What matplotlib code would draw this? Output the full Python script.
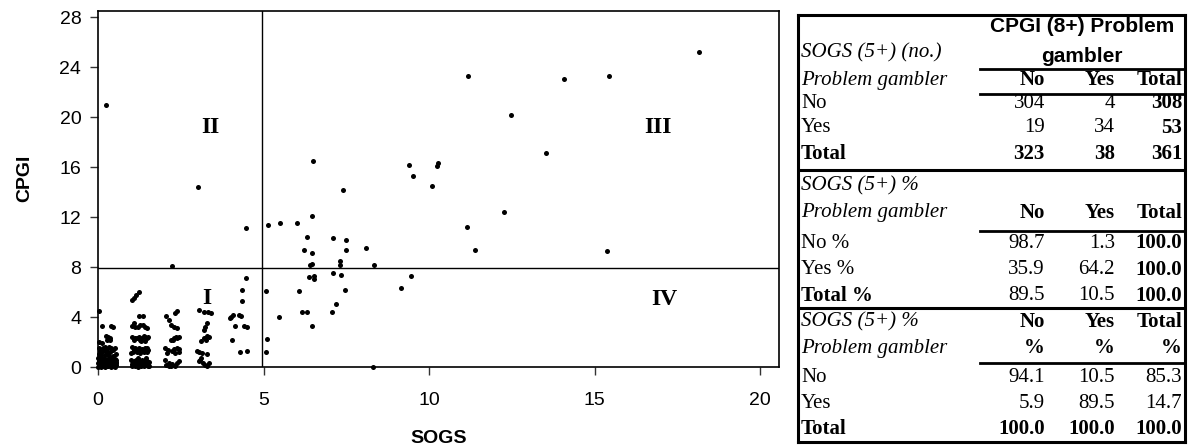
import matplotlib
matplotlib.use("Agg")
import matplotlib.pyplot as plt

# ---------------- data ----------------
# scatter points (SOGS, CPGI), grouped by SOGS column
col0_pts = [(0.02, 4.5), (0.12, 3.3), (0.38, 3.3), (0.30, 2.43), (0.36, 2.36), (0.37, 2.2),
            (0.28, 2.16), (0.02, 2.0), (0.02, 1.5), (0.14, 1.5), (0.27, 1.48), (0.40, 1.52),
            (0.50, 1.5), (0.05, 1.28), (0.15, 1.25), (0.25, 1.3), (0.35, 1.22), (0.02, 1.05),
            (0.10, 1.0), (0.20, 0.98), (0.0, 0.72), (0.1, 0.7), (0.19, 0.74), (0.31, 0.68),
            (0.42, 0.7), (0.5, 0.66), (0.02, 0.5), (0.08, 0.48), (0.14, 0.52), (0.22, 0.5),
            (0.3, 0.47), (0.38, 0.52), (0.46, 0.5), (0.52, 0.46), (0.0, 0.3), (0.06, 0.32),
            (0.12, 0.28), (0.18, 0.3), (0.24, 0.33), (0.3, 0.27), (0.36, 0.3), (0.42, 0.31),
            (0.48, 0.28), (0.54, 0.3), (0.03, 0.15), (0.09, 0.14), (0.15, 0.17), (0.21, 0.12),
            (0.27, 0.15), (0.33, 0.16), (0.39, 0.13), (0.45, 0.15), (0.51, 0.14), (0.0, 0.02),
            (0.1, 0.04), (0.2, 0.02), (0.3, 0.05), (0.4, 0.03), (0.5, 0.02), (0.55, 0.2),
            (0.06, 0.9), (0.33, 0.9), (0.45, 0.86), (0.12, 1.9), (0.24, 2.5), (0.45, 3.2),
            (0.04, 0.62), (0.16, 0.6), (0.26, 0.58), (0.36, 0.62), (0.47, 0.58), (0.54, 0.55),
            (0.07, 0.4), (0.17, 0.42), (0.27, 0.38), (0.41, 0.4), (0.53, 0.38), (0.05, 0.22),
            (0.19, 0.24), (0.33, 0.22), (0.47, 0.2), (0.14, 0.07), (0.26, 0.09), (0.44, 0.08),
            (0.08, 1.15), (0.3, 1.1), (0.44, 1.4), (0.2, 1.6), (0.34, 1.6), (0.54, 1.05)]
col1_pts = [(1.03, 5.36), (1.08, 5.49), (1.15, 5.76), (1.24, 5.98), (1.23, 4.1), (1.37, 4.1),
            (1.08, 3.5), (1.13, 3.23), (1.28, 3.36), (1.35, 3.4), (1.43, 3.23), (1.48, 3.15),
            (1.03, 3.3), (1.03, 2.43), (1.13, 2.36), (1.23, 2.43), (1.33, 2.36), (1.43, 2.43),
            (1.48, 2.29), (1.08, 2.16), (1.28, 2.16), (1.43, 2.1), (1.38, 2.5), (1.03, 1.6),
            (1.13, 1.49), (1.23, 1.55), (1.33, 1.45), (1.43, 1.49), (1.51, 1.36), (1.05, 1.23),
            (1.18, 1.23), (1.38, 1.23), (1.0, 1.1), (1.28, 1.15), (1.48, 1.2), (1.0, 0.6),
            (1.08, 0.45), (1.16, 0.55), (1.24, 0.5), (1.32, 0.6), (1.4, 0.45), (1.48, 0.52),
            (1.54, 0.4), (1.02, 0.25), (1.1, 0.2), (1.18, 0.3), (1.26, 0.22), (1.34, 0.28),
            (1.42, 0.2), (1.5, 0.26), (1.04, 0.05), (1.12, 0.08), (1.2, 0.04), (1.3, 0.06),
            (1.4, 0.05), (1.5, 0.08), (1.55, 0.1), (1.2, 0.7), (1.45, 0.7), (1.18, 2.3),
            (1.52, 2.4), (1.1, 1.35), (1.22, 1.38), (1.35, 1.33), (1.48, 1.5), (1.06, 0.35),
            (1.22, 0.38), (1.36, 0.36), (1.52, 0.32), (1.14, 0.15), (1.28, 0.14), (1.46, 0.14),
            (1.2, 3.2), (1.3, 2.05)]
col2_pts = [(2.05, 4.1), (2.34, 4.3), (2.39, 4.45), (2.15, 3.76), (2.2, 3.4), (2.3, 3.23),
            (2.4, 3.15), (2.3, 2.35), (2.37, 2.43), (2.45, 2.43), (2.21, 2.16), (2.28, 2.2),
            (2.03, 1.5), (2.1, 1.4), (2.25, 1.3), (2.38, 1.5), (2.44, 1.42), (2.08, 1.1),
            (2.34, 1.1), (2.44, 1.2), (2.03, 0.6), (2.13, 0.35), (2.25, 0.25), (2.38, 0.35),
            (2.45, 0.45), (2.2, 0.05), (2.34, 0.1), (2.05, 0.15), (2.4, 2.3), (2.3, 1.45),
            (2.15, 0.1)]
col3_pts = [(3.06, 4.56), (3.32, 4.43), (3.42, 4.3), (3.2, 4.4), (3.3, 3.5), (3.24, 3.23),
            (3.2, 2.96), (3.3, 2.5), (3.35, 2.4), (3.2, 2.3), (3.25, 2.16), (3.12, 2.1),
            (2.98, 1.3), (3.06, 1.2), (3.14, 1.1), (3.3, 1.05), (3.1, 0.7), (3.04, 0.45),
            (3.16, 0.3), (3.24, 0.15), (3.3, 0.05), (3.08, 0.55), (3.34, 0.35)]
col4_pts = [(4.47, 7.1), (4.35, 6.2), (4.35, 5.3), (4.02, 4.0), (4.08, 4.16), (4.25, 4.16),
            (4.32, 4.1), (3.98, 3.9), (4.15, 3.3), (4.42, 3.3), (4.5, 3.2), (4.05, 2.15),
            (4.3, 1.2), (4.5, 1.3)]
high_pts = [(0.24, 20.96), (3.03, 14.4), (4.47, 11.1), (2.23, 8.05),
            (11.18, 23.3), (14.07, 23.07), (12.48, 20.2), (13.52, 17.1), (6.5, 16.5),
            (9.39, 16.2), (10.28, 16.35), (10.23, 16.1), (9.5, 15.3), (10.09, 14.5),
            (7.4, 14.2), (12.27, 12.4), (6.45, 12.1), (5.51, 11.5), (6.01, 11.5),
            (11.14, 11.2), (15.43, 23.3), (18.15, 25.2), (15.38, 9.3), (5.15, 11.36),
            (6.31, 10.4), (7.11, 10.3), (7.5, 10.16), (6.21, 9.4), (7.5, 9.4), (8.1, 9.55),
            (6.46, 9.1), (6.41, 8.2), (6.46, 8.25), (7.3, 8.5), (7.3, 8.2), (8.33, 8.2),
            (11.38, 9.4)]
mid_pts = [(7.1, 7.55), (7.35, 7.4), (6.36, 7.2), (6.51, 7.3), (6.51, 7.04), (7.45, 6.2),
           (5.07, 6.08), (6.06, 6.08), (7.2, 5.04), (6.16, 4.37), (6.31, 4.37), (7.06, 4.37),
           (5.46, 3.98), (6.46, 3.3), (5.11, 2.27), (5.06, 1.23), (8.3, 0.0), (9.16, 6.35),
           (9.44, 7.28)]

sogs_cut = 4.95
cpgi_cut = 7.9
x_ticks = [0, 5, 10, 15, 20]
y_ticks = [0, 4, 8, 12, 16, 20, 24, 28]
quadrants = [("I", 3.3, 5.5), ("II", 3.4, 19.2), ("III", 16.9, 19.2), ("IV", 17.1, 5.4)]

col_heads = ["No", "Yes", "Total"]
counts = [["304", "4", "308"], ["19", "34", "53"], ["323", "38", "361"]]
row_pct = [["98.7", "1.3", "100.0"], ["35.9", "64.2", "100.0"], ["89.5", "10.5", "100.0"]]
col_pct = [["94.1", "10.5", "85.3"], ["5.9", "89.5", "14.7"], ["100.0", "100.0", "100.0"]]

# ---------------- figure ----------------
W, H = 1194, 446
fig = plt.figure(figsize=(W / 100, H / 100), dpi=100)

def fx(px):
    return px / W

def fy(py):
    return 1 - py / H

ax = fig.add_axes([fx(98), fy(367), fx(779) - fx(98), fy(11) - fy(367)])
pts = col0_pts + col1_pts + col2_pts + col3_pts + col4_pts + high_pts + mid_pts
xs = [p[0] for p in pts]
ys = [p[1] for p in pts]
ax.scatter(xs, ys, s=13, c="black", marker="o", linewidths=0, zorder=3, clip_on=False)
ax.axvline(sogs_cut, color="black", lw=1.0)
ax.axhline(cpgi_cut, color="black", lw=1.0)
ax.set_xlim(0, 20.57)
ax.set_ylim(0, 28.5)
ax.set_xticks(x_ticks)
ax.set_yticks(y_ticks)
ax.tick_params(axis="both", direction="out", length=6, width=1, colors="#333333",
               labelcolor="black", labelsize=14)
ax.tick_params(axis="x", pad=12)
ax.tick_params(axis="y", pad=6)
for lab in ax.get_xticklabels() + ax.get_yticklabels():
    lab.set_family("Liberation Sans")
for s in ax.spines.values():
    s.set_linewidth(1.2)
ax.set_xlabel("SOGS", fontsize=14, fontweight="bold", family="Liberation Sans", va="center")
ax.xaxis.set_label_coords(0.5, -0.2)
ax.set_ylabel("CPGI", fontsize=14, fontweight="bold", family="Liberation Sans")
ax.yaxis.set_label_coords(-0.095, 0.53)
for lab, qx, qy in quadrants:
    ax.text(qx, qy, lab, fontsize=17, fontweight="bold", family="Liberation Serif",
            ha="center", va="center", zorder=4)

# ---------------- table ----------------
tx0, tx1, ty0, ty1 = 798, 1185, 15, 442
tb = fig.add_axes([fx(tx0), fy(ty1), fx(tx1) - fx(tx0), fy(ty0) - fy(ty1)])
tb.set_xlim(0, tx1 - tx0)
tb.set_ylim(ty1 - ty0, 0)
tb.set_xticks([])
tb.set_yticks([])
for s in tb.spines.values():
    s.set_linewidth(2.2)

fs = 15
serif = "Liberation Serif"
col_right = [247, 317, 384]
lx = 3

def txt(x, y, s, ha="left", bold=False, italic=False, family=serif, size=fs):
    tb.text(x, y, s, ha=ha, va="center", fontsize=size, family=family,
            fontweight="bold" if bold else "normal",
            fontstyle="italic" if italic else "normal")

# block 1
txt(284, 11, "CPGI (8+) Problem", ha="center", bold=True, family="Liberation Sans", size=15)
txt(284, 42, "gambler", ha="center", bold=True, family="Liberation Sans", size=15)
txt(lx, 38, "SOGS (5+) (no.)", italic=True)
txt(lx, 65, "Problem gambler", italic=True)
for j, h in enumerate(col_heads):
    txt(col_right[j], 65, h, ha="right", bold=True)
tb.plot([182, 387], [54, 54], color="black", lw=2)
tb.plot([182, 387], [79, 79], color="black", lw=2)
row_names = ["No", "Yes", "Total"]
for i, y in enumerate([88, 113, 139]):
    txt(lx, y, row_names[i], bold=(i == 2))
    for j in range(3):
        txt(col_right[j], y, counts[i][j], ha="right", bold=(i == 2 or j == 2))
tb.plot([0, 387], [155, 155], color="black", lw=2.2)

# block 2
txt(lx, 171, "SOGS (5+) %", italic=True)
txt(lx, 198, "Problem gambler", italic=True)
for j, h in enumerate(col_heads):
    txt(col_right[j], 198, h, ha="right", bold=True)
tb.plot([182, 387], [216, 216], color="black", lw=2)
row_names2 = ["No %", "Yes %", "Total %"]
for i, y in enumerate([228, 255, 281]):
    txt(lx, y, row_names2[i], bold=(i == 2))
    for j in range(3):
        txt(col_right[j], y, row_pct[i][j], ha="right", bold=(j == 2))
tb.plot([0, 387], [293, 293], color="black", lw=2.2)

# block 3
txt(lx, 307, "SOGS (5+) %", italic=True)
txt(lx, 333, "Problem gambler", italic=True)
for j, h in enumerate(col_heads):
    txt(col_right[j], 307, h, ha="right", bold=True)
    txt(col_right[j], 333, "%", ha="right", bold=True)
tb.plot([182, 387], [348, 348], color="black", lw=2)
for i, y in enumerate([362, 388, 414]):
    txt(lx, y, row_names[i], bold=(i == 2))
    for j in range(3):
        txt(col_right[j], y, col_pct[i][j], ha="right", bold=(i == 2))

fig.savefig("out.png", dpi=100)
